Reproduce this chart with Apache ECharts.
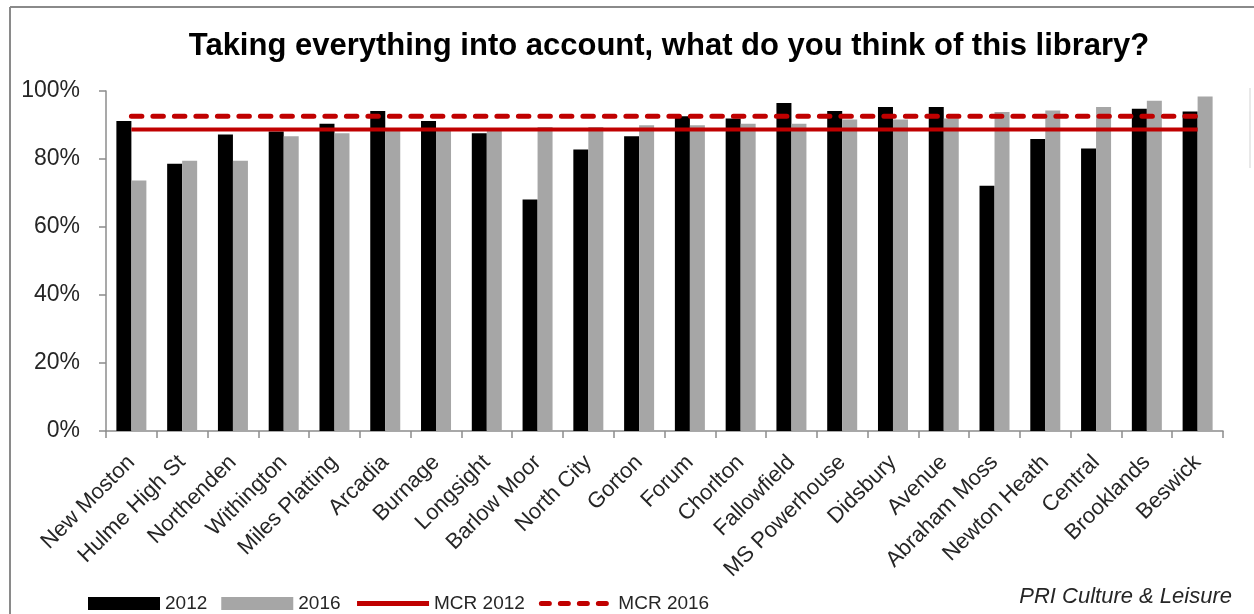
<!DOCTYPE html>
<html>
<head>
<meta charset="utf-8">
<title>Library satisfaction 2012 vs 2016</title>
<script src="https://cdn.jsdelivr.net/npm/echarts@6/dist/echarts.min.js"></script>
<style>
  html, body { margin: 0; padding: 0; background: #fff; }
  #chart { width: 1254px; height: 614px; }
</style>
</head>
<body>
<div id="chart"></div>
<script>
// Libraries, ordered by their 2016 score
const categories = [
  'New Moston', 'Hulme High St', 'Northenden', 'Withington', 'Miles Platting',
  'Arcadia', 'Burnage', 'Longsight', 'Barlow Moor', 'North City', 'Gorton',
  'Forum', 'Chorlton', 'Fallowfield', 'MS Powerhouse', 'Didsbury', 'Avenue',
  'Abraham Moss', 'Newton Heath', 'Central', 'Brooklands', 'Beswick'
];

// Share of users rating the library positively (%)
const values2012 = [
  91.2, 78.6, 87.2, 88.1, 90.4, 94.1, 91.2, 87.6, 68.1, 82.8, 86.7,
  92.6, 91.9, 96.5, 94.1, 95.3, 95.3, 72.1, 85.9, 83.1, 94.8, 94.0
];
const values2016 = [
  73.7, 79.5, 79.5, 86.7, 87.6, 88.9, 88.5, 88.7, 89.4, 89.4, 89.9,
  89.9, 90.4, 90.4, 91.6, 91.6, 91.9, 93.8, 94.3, 95.3, 97.1, 98.4
];

// Manchester-wide averages
const mcr2012 = 88.7;
const mcr2016 = 92.6;

const yTicks = [0, 20, 40, 60, 80, 100];

const RED = '#C00000';
const TEXT = '#262626';
const FONT = '"Liberation Sans", Arial, sans-serif';
const NO_FILL = 'rgba(0,0,0,0)';

const chart = echarts.init(document.getElementById('chart'), null, { renderer: 'canvas' });

// Average lines run from the first library to the last one
const firstCat = categories[0];
const lastCat = categories[categories.length - 1];

chart.setOption({
  animation: false,
  backgroundColor: '#ffffff',
  title: {
    text: 'Taking everything into account, what do you think of this library?',
    left: 664,
    top: 26,
    textAlign: 'center',
    textStyle: { fontFamily: FONT, fontSize: 31, fontWeight: 'bold', color: '#000' }
  },
  grid: { left: 106, right: 31, top: 91, bottom: 183, containLabel: false },
  legend: {
    left: 83,
    top: 589,
    itemWidth: 72,
    itemHeight: 13,
    itemGap: 14,
    textStyle: { fontFamily: FONT, fontSize: 19, color: TEXT },
    data: [
      { name: '2012', icon: 'rect' },
      { name: '2016', icon: 'rect' },
      { name: 'MCR 2012', lineStyle: { width: 5, color: RED } },
      { name: 'MCR 2016', lineStyle: { width: 5, color: RED, type: [8, 11], cap: 'round' } }
    ]
  },
  xAxis: {
    type: 'category',
    data: categories,
    boundaryGap: true,
    axisLine: { show: true, lineStyle: { color: '#8c8c8c', width: 1.5 } },
    axisTick: { show: true, alignWithLabel: false, length: 7, lineStyle: { color: '#8c8c8c', width: 1.5 } },
    axisLabel: {
      rotate: 45,
      interval: 0,
      margin: 28,
      fontFamily: FONT,
      fontSize: 22,
      color: TEXT
    }
  },
  yAxis: {
    type: 'value',
    min: yTicks[0],
    max: yTicks[yTicks.length - 1],
    interval: 20,
    axisLine: { show: true, lineStyle: { color: '#8c8c8c', width: 1.5 } },
    axisTick: { show: true, length: 7, lineStyle: { color: '#8c8c8c', width: 1.5 } },
    splitLine: { show: false },
    axisLabel: {
      formatter: '{value}%',
      margin: 26,
      fontFamily: FONT,
      fontSize: 23,
      color: TEXT
    }
  },
  series: [
    {
      name: '2012',
      type: 'bar',
      data: values2012,
      barWidth: 15,
      barGap: '0%',
      itemStyle: { color: '#000000' }
    },
    {
      name: '2016',
      type: 'bar',
      data: values2016,
      barWidth: 15,
      barGap: '0%',
      itemStyle: { color: '#a6a6a6' }
    },
    {
      name: 'MCR 2012',
      type: 'line',
      data: [[firstCat, mcr2012], [lastCat, mcr2012]],
      symbol: 'none',
      lineStyle: { color: RED, width: 4 },
      itemStyle: { color: NO_FILL },
      z: 5
    },
    {
      name: 'MCR 2016',
      type: 'line',
      data: [[firstCat, mcr2016], [lastCat, mcr2016]],
      symbol: 'none',
      lineStyle: { color: RED, width: 5, type: [10.5, 11], cap: 'round' },
      itemStyle: { color: NO_FILL },
      z: 5
    }
  ],
  graphic: [
    // outer frame (top and left edges)
    { type: 'line', shape: { x1: 10, y1: 7, x2: 1254, y2: 7 }, style: { stroke: '#8a8a8a', lineWidth: 2 } },
    { type: 'line', shape: { x1: 10, y1: 7, x2: 10, y2: 614 }, style: { stroke: '#8a8a8a', lineWidth: 2 } },
    { type: 'line', shape: { x1: 1250, y1: 88, x2: 1250, y2: 168 }, style: { stroke: '#e2e2e2', lineWidth: 1.5 } },
    {
      type: 'text',
      right: 22,
      top: 586,
      style: {
        text: 'PRI Culture & Leisure',
        font: 'italic 22px "Liberation Sans", Arial, sans-serif',
        fill: TEXT
      }
    }
  ]
});
</script>
</body>
</html>
